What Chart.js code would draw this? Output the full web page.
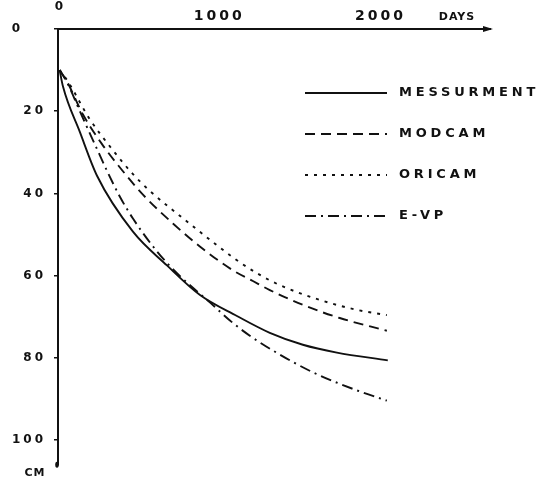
<!DOCTYPE html>
<html>
<head>
<meta charset="utf-8">
<script src="https://cdn.jsdelivr.net/npm/chart.js@4.4.1/dist/chart.umd.min.js"></script>
<style>
  html, body { margin: 0; padding: 0; background: #fff; }
</style>
</head>
<body>
<canvas id="chart" width="538" height="480"></canvas>
<script>
// settlement (cm) against time (days)
const messDays = [10, 31, 136, 242, 465, 676, 881, 1110, 1314, 1519, 1730, 2046]
const messCm = [10, 14.0, 25.1, 35.7, 49.3, 57.5, 64.7, 69.8, 73.9, 76.8, 78.7, 80.6]

const modDays = [10, 56, 155, 273, 403, 527, 713, 880, 1085, 1209, 1314, 1519, 1748, 2040]
const modCm = [10, 12.8, 20.8, 28.0, 34.6, 40.3, 47.3, 52.9, 58.7, 61.3, 63.5, 67.1, 70.3, 73.4]

const oriDays = [10, 62, 198, 335, 465, 570, 800, 986, 1097, 1234, 1376, 1624, 1854, 2040]
const oriCm = [10, 12.8, 22.0, 29.2, 35.3, 39.4, 46.8, 52.6, 55.9, 59.4, 62.3, 65.9, 68.3, 69.6]

const evpDays = [10, 56, 149, 242, 310, 384, 465, 614, 738, 942, 1085, 1190, 1333, 1581, 1854, 2040]
const evpCm = [10, 13.0, 21.2, 29.2, 35.0, 40.8, 46.1, 54.1, 59.4, 66.5, 71.5, 74.6, 78.2, 83.5, 87.9, 90.4]

const seriesNames = ["MESSURMENT", "MODCAM", "ORICAM", "E-VP"]
const xTicks = [0, 1000, 2000]
const yTicks = [0, 20, 40, 60, 80, 100]

const ink = "#111"
const font = "DejaVu Sans"

const pts = (xs, ys) => xs.map((x, i) => ({ x, y: ys[i] }))

const line = (label, data, dash) => ({
  label,
  data,
  borderColor: ink,
  borderWidth: 1.9,
  borderDash: dash,
  pointRadius: 0,
  fill: false,
  cubicInterpolationMode: "monotone",
})

// legend, axis end marks and the odd-placed labels
const extras = {
  id: "extras",
  beforeDraw(chart) {
    chart.ctx.letterSpacing = "3px"
  },
  afterDraw(chart) {
    const ctx = chart.ctx
    const { left, top, right, bottom } = chart.chartArea
    ctx.save()
    ctx.fillStyle = ink

    // arrow at the end of the time axis
    ctx.beginPath()
    ctx.moveTo(right - 7, top - 3)
    ctx.lineTo(right + 3, top)
    ctx.lineTo(right - 7, top + 3)
    ctx.closePath()
    ctx.fill()
    ctx.beginPath()
    ctx.ellipse(left - 1, bottom, 1.8, 3, 0, 0, Math.PI * 2)
    ctx.fill()

    ctx.textBaseline = "middle"
    ctx.textAlign = "center"
    ctx.letterSpacing = "0px"
    ctx.font = `bold 12px "${font}"`
    ctx.fillText("0", 59, 7)
    ctx.fillText("0", 16, 29)
    ctx.letterSpacing = "1px"
    ctx.font = `bold 11px "${font}"`
    ctx.fillText("DAYS", 457, 17)
    ctx.fillText("CM", 35, 473)

    ctx.textAlign = "left"
    ctx.font = `bold 13px "${font}"`
    ctx.letterSpacing = "3.8px"
    chart.data.datasets.forEach((ds, i) => {
      const y = 93 + i * 41
      ctx.save()
      ctx.strokeStyle = ds.borderColor
      ctx.lineWidth = ds.borderWidth
      ctx.setLineDash(ds.borderDash || [])
      ctx.beginPath()
      ctx.moveTo(305, y)
      ctx.lineTo(387, y)
      ctx.stroke()
      ctx.restore()
      ctx.fillText(ds.label, 399, y)
    })
    ctx.restore()
  },
}

new Chart(document.getElementById("chart"), {
  type: "line",
  data: {
    datasets: [
      line(seriesNames[0], pts(messDays, messCm), []),
      line(seriesNames[1], pts(modDays, modCm), [10, 6]),
      line(seriesNames[2], pts(oriDays, oriCm), [3, 6]),
      line(seriesNames[3], pts(evpDays, evpCm), [11, 5, 2, 5]),
    ],
  },
  options: {
    responsive: false,
    animation: false,
    devicePixelRatio: 1,
    layout: { padding: { left: 0, top: 0, right: 48, bottom: 12 } },
    plugins: { legend: { display: false }, tooltip: { enabled: false } },
    scales: {
      x: {
        type: "linear",
        position: "top",
        min: 0,
        max: 2680,
        grid: { display: false, drawTicks: false },
        border: { display: true, color: ink, width: 2 },
        ticks: {
          color: ink,
          padding: 4,
          maxRotation: 0,
          font: { family: font, size: 14, weight: "bold" },
          callback: v => (v === 0 ? "" : String(v)),
        },
        afterBuildTicks: s => { s.ticks = xTicks.map(value => ({ value })) },
        afterFit: s => { s.height = 29 },
      },
      y: {
        type: "linear",
        reverse: true,
        min: 0,
        max: 106,
        grid: { display: true, drawOnChartArea: false, drawTicks: true, tickLength: 4, color: ink, lineWidth: 1.5 },
        border: { display: true, color: ink, width: 2 },
        ticks: {
          color: ink,
          padding: 8,
          font: { family: font, size: 12, weight: "bold" },
          callback: v => (v === 0 ? "" : String(v)),
        },
        afterBuildTicks: s => { s.ticks = yTicks.map(value => ({ value })) },
        afterFit: s => { s.width = 58 },
      },
    },
  },
  plugins: [extras],
})
</script>
</body>
</html>
